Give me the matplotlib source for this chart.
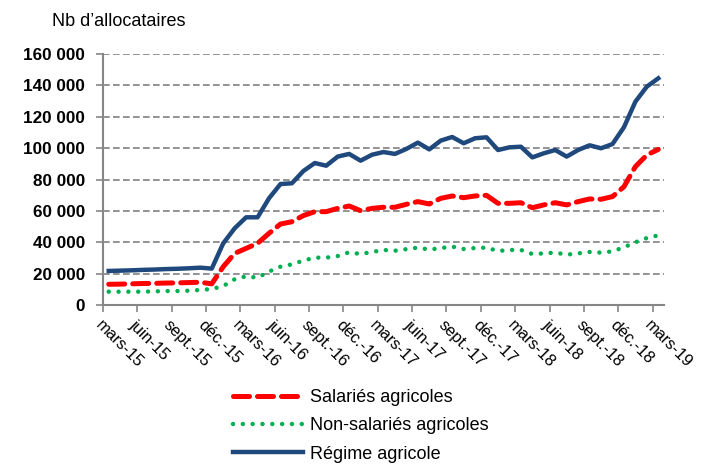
import matplotlib
matplotlib.use("Agg")
import matplotlib.pyplot as plt
import matplotlib.transforms as mtransforms
import numpy as np

plt.rcParams['font.family'] = ['Liberation Sans', 'DejaVu Sans']

tick_labels = ["mars-15", "juin-15", "sept.-15", "déc.-15", "mars-16", "juin-16",
               "sept.-16", "déc.-16", "mars-17", "juin-17", "sept.-17", "déc.-17",
               "mars-18", "juin-18", "sept.-18", "déc.-18", "mars-19"]

salaries = [13200, 13300, 13500, 13700, 13800, 14000, 14100, 14300, 14500, 13500,
            24400, 32900, 36100, 39300, 45700, 51600, 53100, 57000, 59500, 59500,
            61600, 63100, 60100, 61600, 62300, 62300, 64200, 65900, 64400, 68000,
            69500, 68400, 69500, 69900, 64800, 64800, 65200, 62000, 63800, 65200,
            63800, 65900, 67600, 67400, 69100, 75400, 88200, 95600, 99200]

non_salaries = [8500, 8500, 8500, 8500, 8700, 8900, 8900, 9100, 9600, 10200,
                12100, 16400, 18300, 17400, 21300, 24400, 25900, 28300, 30200, 30200,
                31200, 33600, 32500, 33800, 35100, 34600, 35600, 36600, 35300, 36300,
                37200, 35700, 36300, 36600, 34400, 35100, 35100, 32500, 32900, 33400,
                32100, 32900, 33800, 33400, 34200, 36800, 40000, 42700, 44400]

regime = [21700, 21900, 22100, 22400, 22600, 22900, 23100, 23400, 23800, 23200,
          39300, 48900, 55900, 55900, 68000, 77100, 77600, 85400, 90500, 88800,
          94600, 96300, 92000, 95800, 97500, 96300, 99500, 103500, 99200, 104800,
          107100, 103100, 106300, 106900, 98800, 100500, 100900, 94100, 96700, 98800,
          94600, 98800, 101800, 99900, 102600, 113300, 129600, 139200, 144500]

yticks = list(range(0, 160001, 20000))

W, H = 707, 466
fig = plt.figure(figsize=(W / 100, H / 100), dpi=100)
ax = fig.add_axes([103 / W, 1 - 305 / H, (664 - 103) / W, (305 - 54) / H])

x = np.arange(len(regime))
l1, = ax.plot(x, salaries, color='#FF0000', lw=3.6, dashes=(3.2, 1.6),
              dash_capstyle='round', label='Salariés agricoles', zorder=3)
l2, = ax.plot(x, non_salaries, color='#00B050', lw=3.2, dashes=(0.01, 2.2),
              dash_capstyle='round', label='Non-salariés agricoles', zorder=3)
l3, = ax.plot(x, regime, color='#1F497D', lw=3.2, solid_joinstyle='round',
              label='Régime agricole', zorder=4)

ax.set_xlim(-0.5, len(regime) - 0.5)
ax.set_ylim(0, 160000)
ax.set_yticks(yticks)
ax.set_yticklabels([f"{v:,}".replace(",", " ") for v in yticks],
                   fontsize=12.3, fontweight='bold')
tpos = np.arange(len(tick_labels)) * 3 - 0.5
ax.set_xticks(tpos)
ax.set_xticklabels(tick_labels, fontsize=11.8, rotation=-45, ha='left', va='top',
                   rotation_mode='anchor')
offset = mtransforms.ScaledTranslation(4 / 100, 0, fig.dpi_scale_trans)
for lab in ax.get_xticklabels():
    lab.set_transform(lab.get_transform() + offset)

ax.yaxis.grid(True, color='#808080', lw=1.2, dashes=(4, 2))
ax.set_axisbelow(True)
for s in ['top', 'right']:
    ax.spines[s].set_visible(False)
for s in ['left', 'bottom']:
    ax.spines[s].set_color('#868686')
    ax.spines[s].set_linewidth(1.5)
ax.tick_params(axis='y', length=5, width=1.2, color='#868686', pad=8)
ax.tick_params(axis='x', length=5, width=1.2, color='#868686', pad=4)

fig.text(52 / W, 1 - 22 / H, "Nb d’allocataires", fontsize=13, va='center', ha='left')

fig.legend(handles=[l1, l2, l3], loc='upper left', bbox_to_anchor=(222 / W, 1 - 378 / H),
           frameon=False, fontsize=13, handlelength=3.9, handletextpad=0.35,
           labelspacing=0.63, borderaxespad=0.2)

fig.savefig("out.png", dpi=100)
